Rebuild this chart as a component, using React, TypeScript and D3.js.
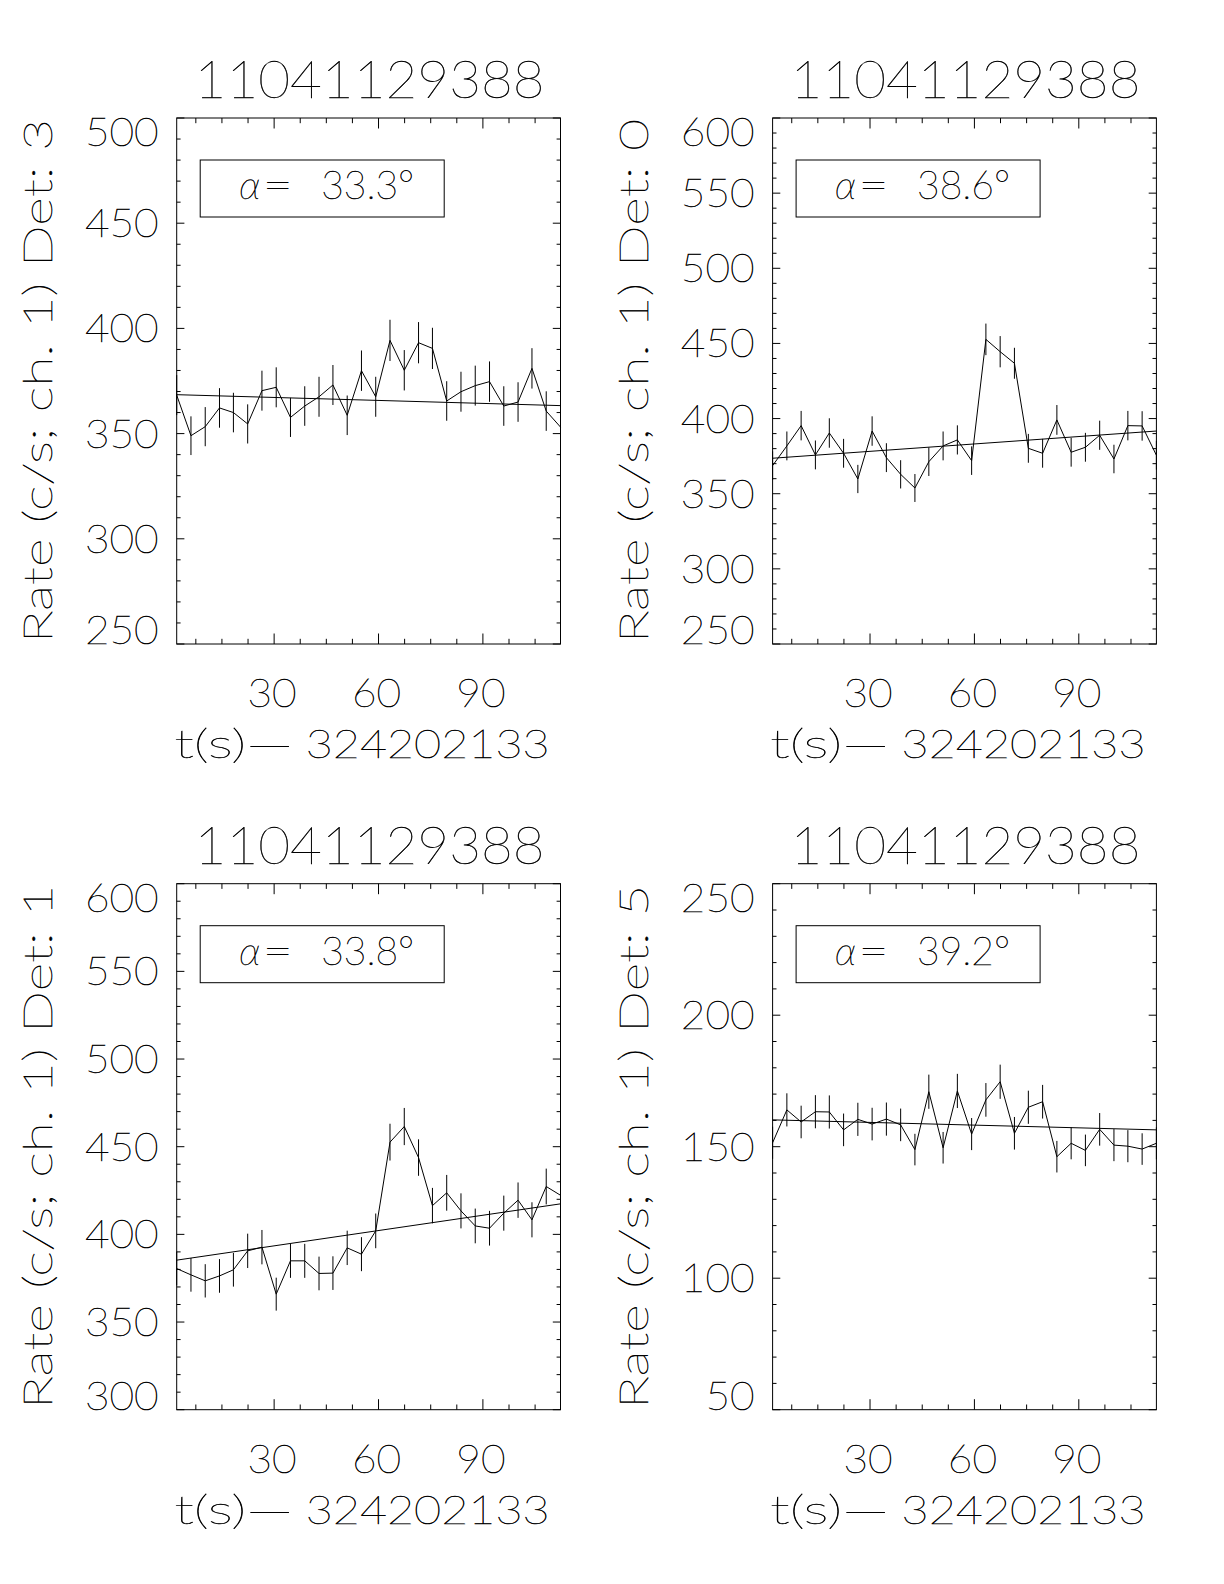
import React from "react";
import * as d3 from "d3";

// ---------- data ----------
const times = [2.0, 6.1, 10.2, 14.3, 18.3, 22.4, 26.5, 30.6, 34.7, 38.8, 42.9, 46.9, 51.0, 55.1,
  59.2, 63.3, 67.4, 71.5, 75.5, 79.6, 83.7, 87.8, 91.9, 96.0, 100.1, 104.1, 108.2, 112.3];

const ratesDet3 = [368.3, 349.0, 353.3, 362.2, 360.0, 354.6, 370.4, 372.0, 357.7, 363.1, 367.5, 373.1, 358.7, 379.9,
  367.5, 394.3, 380.1, 393.2, 390.5, 365.5, 369.9, 372.8, 374.7, 363.1, 365.0, 381.0, 360.7, 353.1];
const errDet3 = [9.5, 9.2, 9.3, 9.4, 9.4, 9.3, 9.5, 9.5, 9.3, 9.4, 9.5, 9.5, 9.4, 9.6,
  9.5, 9.8, 9.6, 9.8, 9.8, 9.4, 9.5, 9.5, 9.6, 9.4, 9.4, 9.6, 9.4, 9.3];
const fitDet3 = [368.5, 363.3];

const ratesDet0 = [368.7, 381.8, 395.3, 375.8, 390.4, 376.9, 359.8, 391.7, 374.0, 362.9, 353.8, 371.3, 381.8, 385.8,
  372.0, 452.7, 444.5, 436.8, 380.2, 376.9, 399.1, 377.6, 380.9, 388.9, 373.1, 395.3, 395.1, 375.6];
const errDet0 = [9.5, 9.6, 9.8, 9.6, 9.8, 9.6, 9.4, 9.8, 9.6, 9.4, 9.3, 9.5, 9.6, 9.7,
  9.5, 10.5, 10.4, 10.3, 9.6, 9.6, 9.9, 9.6, 9.6, 9.7, 9.5, 9.8, 9.8, 9.6];
const fitDet0 = [373.6, 391.7];

const ratesDet1 = [380.5, 376.9, 373.5, 376.3, 379.8, 390.6, 392.7, 365.9, 384.9, 384.9, 377.7, 377.9, 392.3, 388.7,
  402.0, 452.6, 461.5, 443.8, 416.4, 423.7, 413.4, 404.8, 403.5, 412.1, 419.5, 408.3, 427.3, 422.3];
const errDet1 = [9.6, 9.6, 9.5, 9.6, 9.6, 9.8, 9.8, 9.4, 9.7, 9.7, 9.6, 9.6, 9.8, 9.7,
  9.9, 10.5, 10.6, 10.4, 10.1, 10.2, 10.0, 9.9, 9.9, 10.0, 10.1, 10.0, 10.2, 10.1];
const fitDet1 = [385.3, 417.4];

const ratesDet5 = [151.5, 164.0, 159.4, 163.3, 163.2, 156.4, 160.4, 158.6, 160.5, 158.3, 148.9, 170.9, 149.6, 171.2,
  154.8, 167.8, 174.7, 155.1, 165.0, 167.1, 146.2, 151.3, 148.6, 156.6, 150.6, 150.2, 149.1, 151.3];
const errDet5 = [6.1, 6.3, 6.2, 6.3, 6.3, 6.2, 6.3, 6.2, 6.3, 6.2, 6.0, 6.5, 6.0, 6.5,
  6.1, 6.4, 6.5, 6.2, 6.3, 6.4, 6.0, 6.1, 6.0, 6.2, 6.1, 6.1, 6.0, 6.1];
const fitDet5 = [160.2, 156.4];

const xMajorTicks = [30, 60, 90];
const xMinorStep = 7.5;
const titleText = "11041129388";
const xLabelPrefix = "t(s)\u2014";
const xLabelTime = "324202133";

// ---------- layout ----------
const W = 1224, H = 1584;
const PW = 383.8, PH = 526;
const FONT = "Lato, 'DejaVu Sans', sans-serif";
const FW = 200;
const FS = 39;
const DIGIT = 24.6;

type PanelCfg = {
  det: string; alpha: string; yDomain: [number, number]; yMajor: number; yMinor: number;
  rates: number[]; errs: number[]; fit: number[]; L: number; T: number;
};

const panels: PanelCfg[] = [
  { det: "3", alpha: "33.3", yDomain: [250, 500], yMajor: 50, yMinor: 10, rates: ratesDet3, errs: errDet3, fit: fitDet3, L: 176.7, T: 118 },
  { det: "0", alpha: "38.6", yDomain: [250, 600], yMajor: 50, yMinor: 10, rates: ratesDet0, errs: errDet0, fit: fitDet0, L: 772.6, T: 118 },
  { det: "1", alpha: "33.8", yDomain: [300, 600], yMajor: 50, yMinor: 10, rates: ratesDet1, errs: errDet1, fit: fitDet1, L: 176.7, T: 883.7 },
  { det: "5", alpha: "39.2", yDomain: [50, 250], yMajor: 50, yMinor: 10, rates: ratesDet5, errs: errDet5, fit: fitDet5, L: 772.6, T: 883.7 },
];

function Txt(props: any) {
  const { children, size = FS, ...rest } = props;
  return (
    <text fontSize={size} fontFamily={FONT} fontWeight={FW} fill="#000" stroke="#000" strokeWidth={0.45}
      lengthAdjust="spacingAndGlyphs" {...rest}>
      {children}
    </text>
  );
}

function Panel({ p }: { p: PanelCfg }) {
  const { L, T } = p;
  const B = T + PH, R = L + PW;
  const x = d3.scaleLinear().domain([times[0], times[times.length - 1]]).range([L, R]);
  const y = d3.scaleLinear().domain(p.yDomain).range([B, T]);
  const xMinor = d3.range(xMinorStep, times[times.length - 1], xMinorStep).filter((t) => t > times[0] && !xMajorTicks.includes(t));
  const yMajorTicks = d3.range(p.yDomain[0], p.yDomain[1] + 0.001, p.yMajor);
  const yMinorTicks = d3.range(p.yDomain[0], p.yDomain[1] + 0.001, p.yMinor).filter((v) => !yMajorTicks.includes(v));
  const line = d3.line<number>().x((_, i) => x(times[i])).y((v) => y(v));
  const xMajLen = 10.5, xMinLen = 5.2, yMajLen = 7.7, yMinLen = 3.9;
  const stroke = "#000";
  const capH = 28;
  const yLabelBaseline = (v: number, i: number) => {
    if (i === 0) return B;
    if (i === yMajorTicks.length - 1) return T + capH;
    return y(v) + capH / 2;
  };
  return (
    <g>
      <Txt x={L + PW / 2 + 1} y={T - 20} size={52} textAnchor="middle" textLength={350}>{titleText}</Txt>
      <rect x={L} y={T} width={PW} height={PH} fill="none" stroke={stroke} strokeWidth={1} />
      {/* x ticks */}
      {xMajorTicks.map((t) => (
        <g key={"xM" + t}>
          <line x1={x(t)} x2={x(t)} y1={B} y2={B - xMajLen} stroke={stroke} strokeWidth={1} />
          <line x1={x(t)} x2={x(t)} y1={T} y2={T + xMajLen} stroke={stroke} strokeWidth={1} />
          <Txt x={x(t) - 2} y={B + 63} textAnchor="middle" textLength={String(t).length * DIGIT}>{t}</Txt>
        </g>
      ))}
      {xMinor.map((t) => (
        <g key={"xm" + t}>
          <line x1={x(t)} x2={x(t)} y1={B} y2={B - xMinLen} stroke={stroke} strokeWidth={1} />
          <line x1={x(t)} x2={x(t)} y1={T} y2={T + xMinLen} stroke={stroke} strokeWidth={1} />
        </g>
      ))}
      {/* y ticks */}
      {yMajorTicks.map((v, i) => (
        <g key={"yM" + v}>
          <line x1={L} x2={L + yMajLen} y1={y(v)} y2={y(v)} stroke={stroke} strokeWidth={1} />
          <line x1={R} x2={R - yMajLen} y1={y(v)} y2={y(v)} stroke={stroke} strokeWidth={1} />
          <Txt x={L - 18} y={yLabelBaseline(v, i)} textAnchor="end" textLength={String(v).length * DIGIT}>{v}</Txt>
        </g>
      ))}
      {yMinorTicks.map((v) => (
        <g key={"ym" + v}>
          <line x1={L} x2={L + yMinLen} y1={y(v)} y2={y(v)} stroke={stroke} strokeWidth={1} />
          <line x1={R} x2={R - yMinLen} y1={y(v)} y2={y(v)} stroke={stroke} strokeWidth={1} />
        </g>
      ))}
      {/* axis labels */}
      <Txt x={L - 2.5} y={B + 114} textLength={119}>{xLabelPrefix}</Txt>
      <Txt x={L + 129} y={B + 114} textLength={244}>{xLabelTime}</Txt>
      <Txt transform={`translate(${L - 125},${T + PH / 2}) rotate(-90)`} textAnchor="middle" textLength={524}>
        {`Rate (c/s; ch. 1) Det: ${p.det}`}
      </Txt>
      {/* data */}
      <path d={line(p.rates) || ""} fill="none" stroke={stroke} strokeWidth={1} />
      {p.rates.map((v, i) => (
        <line key={"e" + i} x1={x(times[i])} x2={x(times[i])} y1={y(v - p.errs[i])} y2={y(v + p.errs[i])}
          stroke={stroke} strokeWidth={1} />
      ))}
      <line x1={x(times[0])} x2={x(times[times.length - 1])} y1={y(p.fit[0])} y2={y(p.fit[1])} stroke={stroke} strokeWidth={1} />
      {/* alpha box */}
      <rect x={L + 23.5} y={T + 42} width={244} height={57} fill="#fff" stroke={stroke} strokeWidth={1} />
      <Txt x={L + 62.5} y={T + 81} fontStyle="italic" textLength={21}>α</Txt>
      <Txt x={L + 86} y={T + 81} textLength={30}>=</Txt>
      <Txt x={L + 144.5} y={T + 81} textLength={93}>{`${p.alpha}°`}</Txt>
    </g>
  );
}

export default function App() {
  return (
    <svg width={W} height={H} viewBox={`0 0 ${W} ${H}`} style={{ position: "absolute", left: 0, top: 0, background: "#fff" }}>
      <rect x={0} y={0} width={W} height={H} fill="#fff" />
      {panels.map((p) => (
        <Panel key={p.det} p={p} />
      ))}
    </svg>
  );
}
